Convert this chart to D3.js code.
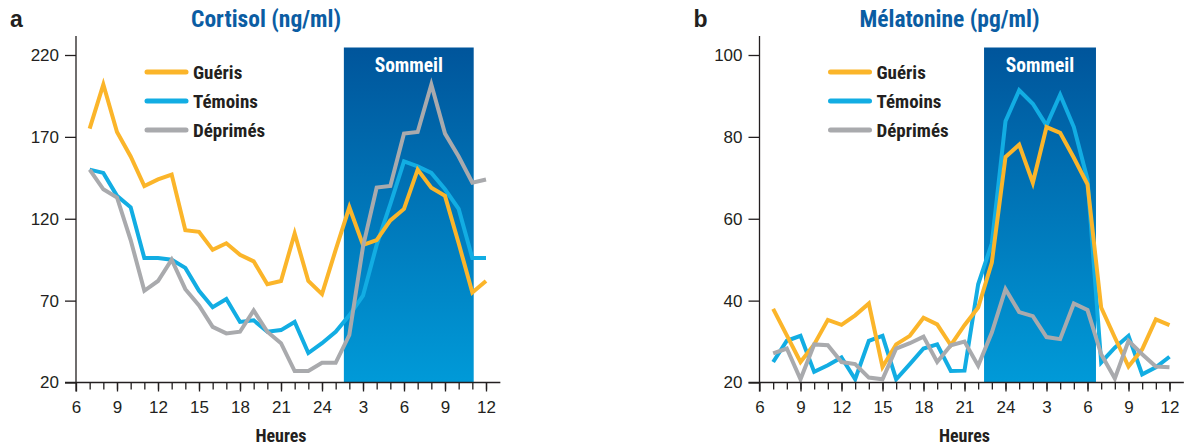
<!DOCTYPE html>
<html>
<head>
<meta charset="utf-8">
<script src="https://cdn.jsdelivr.net/npm/d3@7"></script>
<style>
  html, body { margin: 0; padding: 0; background: #fff; }
  svg { display: block; }
  .cond { font-family: "Liberation Sans Narrow", "Arial Narrow", "Roboto Condensed", sans-serif; font-weight: bold; }
  .tick text { font-family: "Liberation Sans", Arial, sans-serif; }
</style>
</head>
<body>
<svg id="chart" width="1186" height="445"></svg>
<script>
// Clock hours (6 = 6 h, 30 = 6 h the next morning)
const hours = [7, 8, 9, 10, 11, 12, 13, 14, 15, 16, 17, 18, 19, 20, 21, 22, 23, 24, 25, 26,
               27, 28, 29, 30, 31, 32, 33, 34, 35, 36];
const tickHours = [6, 9, 12, 15, 18, 21, 24, 27, 30, 33, 36];
const tickLabels = ["6", "9", "12", "15", "18", "21", "24", "3", "6", "9", "12"];
const seriesNames = ["Guéris", "Témoins", "Déprimés"];

// Cortisol (ng/ml)
const cortisolTicks = [20, 70, 120, 170, 220];
const cortisolGueris = [175, 202, 173, 158, 140, 144, 147, 113, 112, 101, 105, 98, 94, 80, 82, 111,
                        82, 74, 101, 127, 104, 107, 119, 126, 150, 139, 134, 105, 75, 82];
const cortisolTemoins = [150, 148, 134, 127, 96, 96, 95, 90, 76, 66, 71, 57, 58, 51, 52, 57,
                         38, 44, 51, 61, 73, 104, 129, 155, 152, 148, 138, 126, 96, 96];
const cortisolDeprimes = [150, 138, 133, 107, 76, 82, 95, 77, 67, 54, 50, 51, 64, 51, 44, 27,
                          27, 32, 32, 49, 103, 139, 140, 172, 173, 202, 172, 158, 142, 144];
const cortisolSleep = [25.6, 35.1];

// Mélatonine (pg/ml)
const melatoninTicks = [20, 40, 60, 80, 100];
const melatoninGueris = [38, 31.5, 25, 29.3, 35.3, 34.1, 36.4, 39.3, 23.8, 29.3, 31.4, 35.8, 34.2, 29.1,
                         34, 38.3, 49.3, 75.1, 78.1, 68.8, 82.4, 81, 74.9, 68.4, 38.3, 31, 23.9, 28.1, 35.4, 34];
const melatoninTemoins = [25, 30.2, 31.4, 22.6, 24.2, 26.1, 20.8, 30.2, 31.4, 20.8, 24.5, 28.3, 29.3, 22.8,
                          22.9, 44, 54, 83.8, 91.4, 88.1, 82.8, 90.3, 82.4, 69.6, 24.9, 28.5, 31.4, 22, 23.7, 26.3];
const melatoninDeprimes = [27.1, 28.3, 20.8, 29.3, 29.1, 25, 24.5, 21.2, 20.8, 28.3, 29.6, 31.2, 25, 29.1,
                           30, 24.1, 32.2, 42.8, 37.2, 36.2, 31.1, 30.6, 39.3, 37.7, 26.9, 21, 30.2, 26.9, 23.9, 23.7];
const melatoninSleep = [22.43, 30.62];

const colors = { "Guéris": "#fbb52a", "Témoins": "#12ade3", "Déprimés": "#a9aaad" };
const drawOrder = ["Témoins", "Guéris", "Déprimés"];

const svg = d3.select("#chart");

const defs = svg.append("defs");
const grad = defs.append("linearGradient")
  .attr("id", "sleepGrad").attr("x1", 0).attr("y1", 0).attr("x2", 0).attr("y2", 1);
grad.append("stop").attr("offset", "0%").attr("stop-color", "#00559b");
grad.append("stop").attr("offset", "100%").attr("stop-color", "#009ad8");

function panel(opts) {
  const g = svg.append("g");
  const x = d3.scaleLinear().domain([6, 36]).range([opts.x0, opts.x0 + 410]);
  const y = d3.scaleLinear().domain([20, d3.max(opts.yTicks)]).range([382.5, 55]);

  // panel letter and title
  g.append("text").attr("x", opts.x0 - 66).attr("y", 27)
    .attr("font-family", "Liberation Sans, Arial, sans-serif").attr("font-weight", "bold")
    .attr("font-size", 23).attr("fill", "#231f20").text(opts.letter);
  g.append("text").attr("class", "cond").attr("x", opts.x0 + 190).attr("y", 27)
    .attr("text-anchor", "middle").attr("font-size", 23.5).attr("fill", "#0b5da3").text(opts.title);

  // sleep band
  g.append("rect")
    .attr("x", x(opts.sleep[0])).attr("y", 47.5)
    .attr("width", x(opts.sleep[1]) - x(opts.sleep[0]))
    .attr("height", y(20) - 47.5)
    .attr("fill", "url(#sleepGrad)");
  g.append("text").attr("class", "cond")
    .attr("x", (x(opts.sleep[0]) + x(opts.sleep[1])) / 2).attr("y", 72)
    .attr("text-anchor", "middle").attr("font-size", 19.5).attr("fill", "#fff").text("Sommeil");

  // series lines
  const line = d3.line().x((d, i) => x(hours[i])).y(d => y(d));
  drawOrder.forEach(name => {
    g.append("path").datum(opts.series[name])
      .attr("d", line).attr("fill", "none")
      .attr("stroke", colors[name]).attr("stroke-width", 4)
      .attr("stroke-linejoin", "miter");
  });

  // axes
  const axisColor = "#231f20";
  g.append("line").attr("x1", opts.x0 - 11).attr("x2", x(37.05))
    .attr("y1", y(20)).attr("y2", y(20)).attr("stroke", axisColor).attr("stroke-width", 1.3);
  g.append("line").attr("x1", x(6)).attr("x2", x(6))
    .attr("y1", 36).attr("y2", y(20) + 9).attr("stroke", axisColor).attr("stroke-width", 1.3);

  const minor = g.append("g").attr("transform", `translate(0,${y(20)})`)
    .call(d3.axisBottom(x).tickValues(hours).tickSize(7).tickFormat(""));
  minor.select(".domain").remove();
  minor.selectAll("line").attr("stroke", axisColor).attr("stroke-width", 1.3);

  const major = g.append("g").attr("transform", `translate(0,${y(20)})`)
    .call(d3.axisBottom(x).tickValues(tickHours).tickSize(9).tickPadding(9)
      .tickFormat((d, i) => tickLabels[i]));
  major.select(".domain").remove();
  major.selectAll("line").attr("stroke", axisColor).attr("stroke-width", 1.3);
  major.selectAll("text").attr("font-size", 17).attr("fill", "#231f20");

  const yAx = g.append("g").attr("transform", `translate(${x(6)},0)`)
    .call(d3.axisLeft(y).tickValues(opts.yTicks).tickSize(11).tickPadding(6));
  yAx.select(".domain").remove();
  yAx.selectAll("line").attr("stroke", axisColor).attr("stroke-width", 1.3);
  yAx.selectAll("text").attr("font-size", 17).attr("fill", "#231f20");

  g.append("text").attr("class", "cond").attr("x", x(21)).attr("y", 442)
    .attr("text-anchor", "middle").attr("font-size", 18).attr("fill", "#231f20").text("Heures");

  // legend
  seriesNames.forEach((name, i) => {
    const ly = 72 + i * 29;
    g.append("line").attr("x1", opts.x0 + 71).attr("x2", opts.x0 + 110)
      .attr("y1", ly).attr("y2", ly)
      .attr("stroke", colors[name]).attr("stroke-width", 5).attr("stroke-linecap", "round");
    g.append("text").attr("class", "cond").attr("x", opts.x0 + 117).attr("y", ly + 6.5)
      .attr("font-size", 19).attr("fill", "#231f20").text(name);
  });
}

panel({
  x0: 76, letter: "a", title: "Cortisol (ng/ml)", yTicks: cortisolTicks, sleep: cortisolSleep,
  series: { "Guéris": cortisolGueris, "Témoins": cortisolTemoins, "Déprimés": cortisolDeprimes }
});
panel({
  x0: 759.5, letter: "b", title: "Mélatonine (pg/ml)", yTicks: melatoninTicks, sleep: melatoninSleep,
  series: { "Guéris": melatoninGueris, "Témoins": melatoninTemoins, "Déprimés": melatoninDeprimes }
});
</script>
</body>
</html>
